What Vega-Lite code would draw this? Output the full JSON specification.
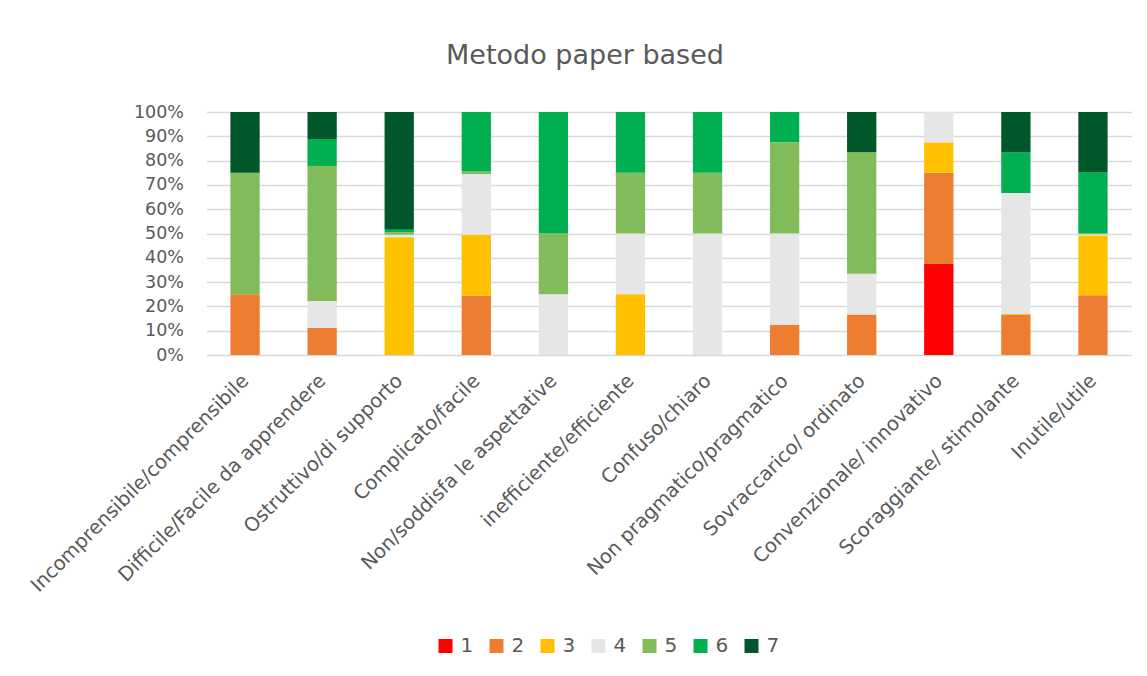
{
  "$schema": "https://vega.github.io/schema/vega-lite/v6.json",
  "autosize": {"type": "none"},
  "width": 925,
  "height": 243,
  "padding": {"left": 206.5, "top": 112, "right": 15.5, "bottom": 321},
  "background": "white",
  "title": {
    "text": "Metodo paper based",
    "anchor": "middle",
    "frame": "group",
    "dx": -84,
    "offset": 33,
    "font": "DejaVu Sans",
    "fontSize": 27,
    "fontWeight": "normal",
    "color": "#595959"
  },
  "data": {
    "values": [
      {"c": "Incomprensibile/comprensibile", "k": "2", "v": 25},
      {"c": "Incomprensibile/comprensibile", "k": "5", "v": 50},
      {"c": "Incomprensibile/comprensibile", "k": "7", "v": 25},
      {"c": "Difficile/Facile da apprendere", "k": "2", "v": 11.1},
      {"c": "Difficile/Facile da apprendere", "k": "4", "v": 11.1},
      {"c": "Difficile/Facile da apprendere", "k": "5", "v": 55.6},
      {"c": "Difficile/Facile da apprendere", "k": "6", "v": 11.1},
      {"c": "Difficile/Facile da apprendere", "k": "7", "v": 11.1},
      {"c": "Ostruttivo/di supporto", "k": "3", "v": 48.5},
      {"c": "Ostruttivo/di supporto", "k": "4", "v": 1},
      {"c": "Ostruttivo/di supporto", "k": "5", "v": 1},
      {"c": "Ostruttivo/di supporto", "k": "6", "v": 1},
      {"c": "Ostruttivo/di supporto", "k": "7", "v": 48.5},
      {"c": "Complicato/facile", "k": "2", "v": 24.5},
      {"c": "Complicato/facile", "k": "3", "v": 25},
      {"c": "Complicato/facile", "k": "4", "v": 25},
      {"c": "Complicato/facile", "k": "5", "v": 1},
      {"c": "Complicato/facile", "k": "6", "v": 24.5},
      {"c": "Non/soddisfa le aspettative", "k": "4", "v": 25},
      {"c": "Non/soddisfa le aspettative", "k": "5", "v": 25},
      {"c": "Non/soddisfa le aspettative", "k": "6", "v": 50},
      {"c": "inefficiente/efficiente", "k": "3", "v": 25},
      {"c": "inefficiente/efficiente", "k": "4", "v": 25},
      {"c": "inefficiente/efficiente", "k": "5", "v": 25},
      {"c": "inefficiente/efficiente", "k": "6", "v": 25},
      {"c": "Confuso/chiaro", "k": "4", "v": 50},
      {"c": "Confuso/chiaro", "k": "5", "v": 25},
      {"c": "Confuso/chiaro", "k": "6", "v": 25},
      {"c": "Non pragmatico/pragmatico", "k": "2", "v": 12.5},
      {"c": "Non pragmatico/pragmatico", "k": "4", "v": 37.5},
      {"c": "Non pragmatico/pragmatico", "k": "5", "v": 37.5},
      {"c": "Non pragmatico/pragmatico", "k": "6", "v": 12.5},
      {"c": "Sovraccarico/ ordinato", "k": "2", "v": 16.7},
      {"c": "Sovraccarico/ ordinato", "k": "4", "v": 16.7},
      {"c": "Sovraccarico/ ordinato", "k": "5", "v": 50},
      {"c": "Sovraccarico/ ordinato", "k": "7", "v": 16.6},
      {"c": "Convenzionale/ innovativo", "k": "1", "v": 37.5},
      {"c": "Convenzionale/ innovativo", "k": "2", "v": 37.5},
      {"c": "Convenzionale/ innovativo", "k": "3", "v": 12.5},
      {"c": "Convenzionale/ innovativo", "k": "4", "v": 12.5},
      {"c": "Scoraggiante/ stimolante", "k": "2", "v": 16.5},
      {"c": "Scoraggiante/ stimolante", "k": "3", "v": 0.4},
      {"c": "Scoraggiante/ stimolante", "k": "4", "v": 49.8},
      {"c": "Scoraggiante/ stimolante", "k": "6", "v": 16.6},
      {"c": "Scoraggiante/ stimolante", "k": "7", "v": 16.7},
      {"c": "Inutile/utile", "k": "2", "v": 24.6},
      {"c": "Inutile/utile", "k": "3", "v": 24.6},
      {"c": "Inutile/utile", "k": "4", "v": 0.5},
      {"c": "Inutile/utile", "k": "5", "v": 0.5},
      {"c": "Inutile/utile", "k": "6", "v": 24.9},
      {"c": "Inutile/utile", "k": "7", "v": 24.9}
    ]
  },
  "mark": {"type": "bar"},
  "encoding": {
    "x": {
      "field": "c",
      "type": "nominal",
      "sort": null,
      "title": null,
      "scale": {"paddingInner": 0.62, "paddingOuter": 0.31},
      "axis": {
        "labelAngle": -45,
        "labelAlign": "right",
        "labelBaseline": "top",
        "labelFont": "DejaVu Sans",
        "labelFontSize": 19.5,
        "labelColor": "#595959",
        "labelPadding": 16,
        "labelOffset": -6,
        "labelLimit": 500,
        "ticks": false,
        "domain": false,
        "grid": false
      }
    },
    "y": {
      "field": "v",
      "type": "quantitative",
      "stack": "normalize",
      "title": null,
      "scale": {"domain": [0, 1], "nice": false},
      "axis": {
        "values": [0, 0.1, 0.2, 0.3, 0.4, 0.5, 0.6, 0.7, 0.8, 0.9, 1],
        "format": ".0%",
        "labelFont": "DejaVu Sans",
        "labelFontSize": 17.5,
        "labelColor": "#595959",
        "labelPadding": 23,
        "ticks": false,
        "domain": false,
        "grid": true,
        "gridColor": "#D9D9D9",
        "gridWidth": 1.3
      }
    },
    "color": {
      "field": "k",
      "type": "nominal",
      "scale": {
        "domain": ["1", "2", "3", "4", "5", "6", "7"],
        "range": ["#FF0000", "#ED7D31", "#FFC000", "#E7E6E6", "#81BB5A", "#00B050", "#00582A"]
      },
      "legend": {
        "title": null,
        "orient": "none",
        "legendX": 229,
        "legendY": 524,
        "direction": "horizontal",
        "symbolType": "square",
        "symbolSize": 196,
        "symbolStrokeWidth": 0,
        "labelFont": "DejaVu Sans",
        "labelFontSize": 20,
        "labelColor": "#595959",
        "labelOffset": 5,
        "columnPadding": 13
      }
    },
    "order": {"field": "k", "sort": "ascending"}
  },
  "config": {"view": {"stroke": null}}
}
